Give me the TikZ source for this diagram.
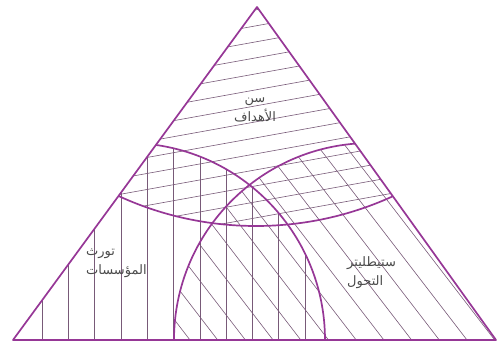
\documentclass[tikz,border=0pt]{standalone}
\usepackage{fontspec}
\newfontfamily\arabicfont[Script=Arabic]{DejaVu Sans}
\TeXXeTstate=1
\definecolor{outlinepurple}{RGB}{150, 55, 150}
\definecolor{hatchpurple}{RGB}{120, 90, 120}
\definecolor{labelgray}{RGB}{75, 75, 75}
\usetikzlibrary{calc}

\begin{document}
\begin{tikzpicture}[x=1pt,y=1pt,
    outline/.style={draw=outlinepurple, line width=1.7pt},
    hatch/.style={draw=hatchpurple, line width=0.6pt},
    arlabel/.style={font=\arabicfont\fontsize{13}{19}\selectfont, text=labelgray, inner sep=0pt}]
    \useasboundingbox (0,0) rectangle (499,350);

    % Triangle corners
    \coordinate (left) at (13,10);
    \coordinate (apex) at (257,343);
    \coordinate (right) at (496,10);

    % Goals circle: slanted hatch
    \begin{scope}
        \clip (left) -- (apex) -- (right) -- cycle;
        \clip (256,453) circle (329pt);
        \foreach \c in {-90,-74,...,360} {
            \draw[hatch] (0,\c) -- (499,\c+90);
        }
    \end{scope}

    % Institutions circle: vertical hatch
    \begin{scope}
        \clip (left) -- (apex) -- (right) -- cycle;
        \clip (128,10) circle (197pt);
        \foreach \x in {42,68.3,...,310} {
            \draw[hatch] (\x,0) -- (\x,350);
        }
    \end{scope}

    % Strategies circle: diagonal hatch
    \begin{scope}
        \clip (left) -- (apex) -- (right) -- cycle;
        \clip (371,10) circle (197pt);
        \foreach \b in {190,217.7,...,560} {
            \draw[hatch] (\b-280,374) -- (\b+20,-16);
        }
    \end{scope}

    % Circle outlines inside the triangle
    \begin{scope}
        \clip (left) -- (apex) -- (right) -- cycle;
        \draw[outline] (256,453) circle (329pt);
        \draw[outline] (128,10) circle (197pt);
        \draw[outline] (371,10) circle (197pt);
    \end{scope}
    \draw[outline, line join=round] (left) -- (apex) -- (right) -- cycle;

    % Labels
    \node[arlabel, align=center] (goals) at (255,240) {\beginR سن\endR\\\beginR الأهداف\endR};
    \node[arlabel, align=left, anchor=north west] (heritage) at (86,101) {\beginR تورث\endR\\\beginR المؤسسات\endR};
    \node[arlabel, align=left, anchor=north west] (strategy) at (347,94) {\beginR ستيطليتر\endR\\\beginR التحول\endR};
\end{tikzpicture}
\end{document}
